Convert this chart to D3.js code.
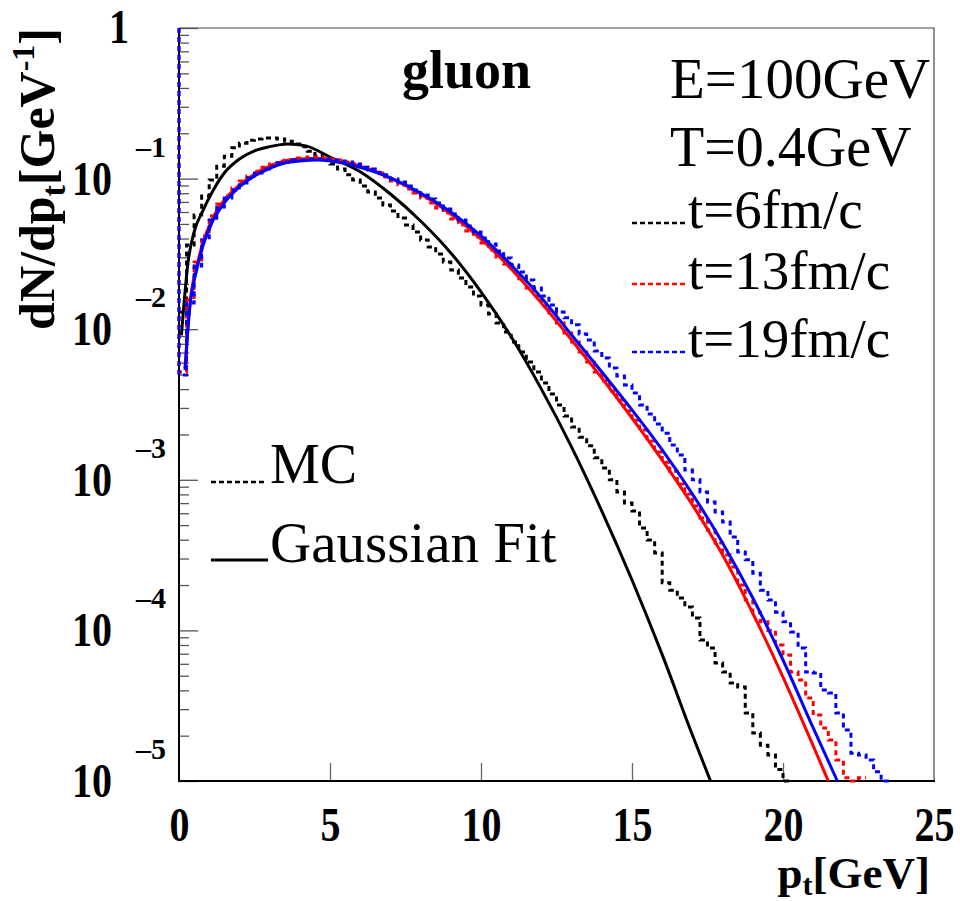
<!DOCTYPE html>
<html><head><meta charset="utf-8">
<script src="https://cdn.jsdelivr.net/npm/d3@7"></script>
<style>
body{margin:0;background:#fff}
svg{display:block}
text{font-family:"Liberation Serif","Times New Roman",serif;fill:#000}
</style>
</head><body>
<svg id="chart" width="960" height="901"></svg>
<script>
// ---------------- data ----------------
const binWidth = 0.25;               // GeV, histogram bins start at pt = 0
const spikeTop = 2;                  // first-edge spike of the t=13 / t=19 histograms (off scale)

// MC histograms dN/dpt per 0.25 GeV bin
const histT6 = [1.30e-2,3.62e-2,5.73e-2,7.66e-2,9.79e-2,1.21e-1,1.41e-1,1.60e-1,1.72e-1,1.80e-1,
  1.83e-1,1.86e-1,1.86e-1,1.83e-1,1.77e-1,1.70e-1,1.63e-1,1.52e-1,1.43e-1,1.33e-1,
  1.25e-1,1.16e-1,1.06e-1,9.79e-2,8.93e-2,8.15e-2,7.43e-2,6.68e-2,6.09e-2,5.47e-2,
  4.92e-2,4.42e-2,3.91e-2,3.51e-2,3.16e-2,2.79e-2,2.47e-2,2.19e-2,1.91e-2,1.66e-2,
  1.45e-2,1.26e-2,1.10e-2,9.58e-3,8.22e-3,7.06e-3,6.06e-3,5.20e-3,4.40e-3,3.71e-3,
  3.14e-3,2.65e-3,2.24e-3,1.92e-3,1.68e-3,1.40e-3,1.20e-3,1.00e-3,8.30e-4,7.01e-4,
  6.21e-4,4.79e-4,3.98e-4,3.27e-4,2.07e-4,1.85e-4,1.64e-4,1.43e-4,1.21e-4,8.63e-5,
  7.64e-5,6.08e-5,5.29e-5,4.47e-5,4.21e-5,2.83e-5,2.08e-5,1.73e-5,1.49e-5,1.19e-5,1.0e-5];

const histT13 = [5.20e-3,1.56e-2,2.79e-2,4.16e-2,5.65e-2,6.78e-2,7.66e-2,8.66e-2,9.64e-2,1.04e-1,
  1.12e-1,1.19e-1,1.25e-1,1.31e-1,1.33e-1,1.37e-1,1.37e-1,1.39e-1,1.39e-1,1.37e-1,
  1.35e-1,1.33e-1,1.29e-1,1.25e-1,1.19e-1,1.14e-1,1.09e-1,1.025e-1,9.64e-2,9.07e-2,
  8.53e-2,8.02e-2,7.43e-2,6.89e-2,6.38e-2,5.91e-2,5.39e-2,4.92e-2,4.49e-2,4.10e-2,
  3.74e-2,3.36e-2,3.02e-2,2.71e-2,2.40e-2,2.16e-2,1.88e-2,1.66e-2,1.43e-2,1.28e-2,
  1.10e-2,9.44e-3,8.22e-3,7.06e-3,6.06e-3,5.20e-3,4.53e-3,3.89e-3,3.39e-3,2.86e-3,
  2.49e-3,2.14e-3,1.81e-3,1.53e-3,1.31e-3,1.14e-3,9.38e-4,8.05e-4,6.70e-4,5.58e-4,
  4.64e-4,3.81e-4,3.17e-4,2.64e-4,2.00e-4,1.59e-4,1.32e-4,1.14e-4,1.00e-4,8.00e-5,
  6.87e-5,5.29e-5,4.68e-5,3.56e-5,2.74e-5,2.25e-5,1.87e-5,1.38e-5,1.05e-5,0,1.05e-5];

const histT19 = [4.96e-3,1.49e-2,2.63e-2,3.91e-2,5.31e-2,6.47e-2,7.43e-2,8.40e-2,9.35e-2,1.01e-1,
  1.09e-1,1.16e-1,1.21e-1,1.27e-1,1.29e-1,1.33e-1,1.33e-1,1.35e-1,1.35e-1,1.35e-1,
  1.33e-1,1.31e-1,1.29e-1,1.25e-1,1.19e-1,1.16e-1,1.10e-1,1.06e-1,9.94e-2,9.49e-2,
  8.93e-2,8.40e-2,7.78e-2,7.32e-2,6.89e-2,6.28e-2,5.82e-2,5.31e-2,4.84e-2,4.42e-2,
  4.03e-2,3.68e-2,3.31e-2,2.97e-2,2.67e-2,2.40e-2,2.12e-2,1.88e-2,1.66e-2,1.45e-2,
  1.30e-2,1.19e-2,1.07e-2,9.29e-3,8.48e-3,7.16e-3,6.44e-3,5.53e-3,4.89e-3,4.26e-3,
  3.77e-3,3.14e-3,2.73e-3,2.35e-3,2.04e-3,1.70e-3,1.46e-3,1.16e-3,1.00e-3,8.30e-4,
  7.12e-4,6.11e-4,5.24e-4,4.17e-4,3.32e-4,2.94e-4,2.40e-4,1.85e-4,1.59e-4,1.32e-4,
  1.14e-4,9.76e-5,7.64e-5,5.29e-5,5.21e-5,4.02e-5,3.84e-5,2.83e-5,2.18e-5,1.53e-5,
  1.49e-5,1.38e-5,1.15e-5,1.0e-5];

// Gaussian fits (pt, dN/dpt)
const fitT6Pt  = [0.08,0.3,0.5,0.8,1.1,1.5,2.0,2.5,3.0,3.6,4.2,5,6,7,8,9,10,11,12,13,14,15,16,17,17.6];
const fitT6Val = [9.1e-3,2.79e-2,4.42e-2,6.18e-2,8.15e-2,1.09e-1,1.35e-1,1.53e-1,1.63e-1,1.70e-1,1.65e-1,
  1.39e-1,1.11e-1,7.90e-2,5.23e-2,3.21e-2,1.77e-2,8.9e-3,4.0e-3,1.65e-3,6.2e-4,2.16e-4,6.9e-5,2.02e-5,9.5e-6];
const fitT13Pt  = [0.2,0.35,0.6,0.8,1.1,1.5,2.0,2.5,3.0,3.5,4.0,4.5,5,6,7,8,9,10,11,12,13,14,15,16,17,18,19,20,21,21.5];
const fitT13Val = [5.53e-3,1.41e-2,2.67e-2,3.79e-2,5.39e-2,7.21e-2,9.07e-2,1.07e-1,1.21e-1,1.31e-1,1.35e-1,1.36e-1,
  1.35e-1,1.21e-1,1.01e-1,7.90e-2,5.82e-2,3.97e-2,2.51e-2,1.49e-2,8.48e-3,4.74e-3,2.57e-3,1.35e-3,6.80e-4,
  3.17e-4,1.30e-4,4.90e-5,1.71e-5,9.8e-6];
const fitT19Pt  = [0.2,0.35,0.6,0.8,1.1,1.5,2.0,2.5,3.0,3.5,4.0,4.6,5,6,7,8,9,10,11,12,13,14,15,16,17,18,19,20,21,21.8];
const fitT19Val = [5.36e-3,1.34e-2,2.55e-2,3.62e-2,5.15e-2,6.89e-2,8.80e-2,1.04e-1,1.17e-1,1.27e-1,1.31e-1,1.33e-1,
  1.31e-1,1.19e-1,1.01e-1,8.02e-2,6.00e-2,4.16e-2,2.67e-2,1.62e-2,9.15e-3,5.20e-3,2.91e-3,1.58e-3,8.05e-4,
  3.81e-4,1.64e-4,6.36e-5,2.25e-5,9.7e-6];

const xTickValues = [0,5,10,15,20,25];
const xTickLabels = ["0","5","10","15","20","25"];
const yDecades = [1e-5,1e-4,1e-3,1e-2,1e-1,1];
const yDecadeExp = ["\u20135","\u20134","\u20133","\u20132","\u20131",""];
const legendTimes = ["t=6fm/c","t=13fm/c","t=19fm/c"];
const seriesColors = ["#000000","#ff0000","#0000ff"];

// ---------------- layout ----------------
const L = 179, R = 934, T = 28, B = 781;
const STRETCH = 1.2;   // tall bold digits of the tick labels
const svg = d3.select("#chart");
const x = d3.scaleLinear().domain([0,25]).range([L,R]);
const y = d3.scaleLog().domain([1e-5,1]).range([B,T]).clamp(true);
const yv = v => y(Math.max(v, 1e-5));

svg.append("defs").append("clipPath").attr("id","clip")
  .append("rect").attr("x",L-3).attr("y",T).attr("width",R-L+3).attr("height",B-T+2);

// frame (top/right thin)
svg.append("path").attr("d",`M${L},${T}H${R}V${B}`).attr("fill","none").attr("stroke","#444").attr("stroke-width",1.2);

// y ticks via axes
const minors = [];
yDecades.slice(0,5).forEach(d => { for (let k=2;k<=9;k++) minors.push(d*k); });
const gyMin = svg.append("g").attr("transform",`translate(${L},0)`)
  .call(d3.axisLeft(y).tickValues(minors).tickSize(-10).tickFormat(""));
const gyMaj = svg.append("g").attr("transform",`translate(${L},0)`)
  .call(d3.axisLeft(y).tickValues(yDecades).tickSize(-19).tickFormat(""));
[gyMin,gyMaj].forEach(g => { g.select(".domain").remove(); g.selectAll("line").attr("stroke","#555").attr("stroke-width",1.3); });

const gx = svg.append("g").attr("transform",`translate(0,${B})`)
  .call(d3.axisBottom(x).tickValues([5,10,15,20]).tickSize(-18).tickFormat(""));
gx.select(".domain").remove();
gx.selectAll("line").attr("stroke","#666").attr("stroke-width",1.3);

// axes lines (left, bottom)
svg.append("line").attr("x1",L).attr("x2",L).attr("y1",T).attr("y2",B+1).attr("stroke","#000").attr("stroke-width",2);
svg.append("line").attr("x1",L-1).attr("x2",R+1).attr("y1",B).attr("y2",B).attr("stroke","#000").attr("stroke-width",2);

// x labels via axis
const gxl = svg.append("g").attr("transform",`translate(0,${B})`)
  .call(d3.axisBottom(x).tickValues(xTickValues).tickSize(0).tickPadding(0).tickFormat((d,i)=>xTickLabels[i]));
gxl.select(".domain").remove();
gxl.selectAll("text").attr("font-size",40).attr("font-weight","bold")
  .attr("font-family",'"Liberation Serif",serif').attr("fill","#000").attr("dy",null).attr("y",0)
  .attr("transform",`translate(0,60) scale(1,${STRETCH})`);

// y labels
function boldLabel(px, py, size, txt, stretch) {
  svg.append("text").attr("transform",`translate(${px},${py}) scale(1,${stretch})`)
    .attr("text-anchor","middle").attr("font-size",size).attr("font-weight","bold").text(txt);
}
yDecades.forEach((d,i) => {
  const py = y(d);
  if (yDecadeExp[i] === "") {
    boldLabel(119, py+15, 40, "1", STRETCH);
  } else {
    boldLabel(92, py+16, 40, "10", STRETCH);
    boldLabel(151, py-22, 30, yDecadeExp[i], 1);
  }
});

// axis titles
const xt = svg.append("text").attr("x",930).attr("y",888).attr("text-anchor","end")
  .attr("font-size",45).attr("font-weight","bold");
xt.append("tspan").text("p");
xt.append("tspan").attr("font-size",30).attr("dy",7).text("t");
xt.append("tspan").attr("dy",-7).text("[GeV]");

const yt = svg.append("text").attr("transform","translate(54,28) rotate(-90)").attr("text-anchor","end")
  .attr("font-size",50).attr("font-weight","bold");
yt.append("tspan").text("dN/dp");
yt.append("tspan").attr("font-size",34).attr("dy",11).text("t");
yt.append("tspan").attr("dy",-11).text("[GeV");
yt.append("tspan").attr("font-size",32).attr("dy",-20).text("-1");
yt.append("tspan").attr("dy",20).text("]");

// ---------------- marks ----------------
const plot = svg.append("g").attr("clip-path","url(#clip)");
const line = d3.line().x(d=>x(d[0])).y(d=>yv(d[1]));
const fitLine = d3.line().x(d=>x(d[0])).y(d=>yv(d[1])).curve(d3.curveMonotoneX);

function histPoints(vals, spike) {
  const pts = [];
  if (spike) pts.push([0, spikeTop]);
  vals.forEach((v,i) => { pts.push([i*binWidth, v]); pts.push([(i+1)*binWidth, v]); });
  return pts;
}
const hists = [[histT6,false],[histT13,true],[histT19,true]];
const fits = [[fitT6Pt,fitT6Val],[fitT13Pt,fitT13Val],[fitT19Pt,fitT19Val]];

hists.forEach((h,i) => {
  plot.append("path").attr("d", line(histPoints(h[0],h[1])))
    .attr("fill","none").attr("stroke",seriesColors[i]).attr("stroke-width",3)
    .attr("stroke-dasharray","5,4");
  const f = fits[i];
  plot.append("path").attr("d", fitLine(f[0].map((p,j)=>[p,f[1][j]])))
    .attr("fill","none").attr("stroke",seriesColors[i]).attr("stroke-width",3);
});

// ---------------- annotations / legend ----------------
svg.append("text").attr("x",402).attr("y",88).attr("font-size",54).attr("font-weight","bold").text("gluon");
svg.append("text").attr("x",670).attr("y",98).attr("font-size",57).text("E=100GeV");
svg.append("text").attr("x",670).attr("y",166).attr("font-size",56).text("T=0.4GeV");
const legY = [223,284,352];
legendTimes.forEach((t,i) => {
  svg.append("line").attr("x1",632).attr("x2",688).attr("y1",legY[i]).attr("y2",legY[i])
    .attr("stroke",seriesColors[i]).attr("stroke-width",2.5).attr("stroke-dasharray","5,3");
  svg.append("text").attr("x",688).attr("y",legY[i]+5).attr("font-size",55).text(t);
});
svg.append("line").attr("x1",211).attr("x2",267).attr("y1",482).attr("y2",482)
  .attr("stroke","#000").attr("stroke-width",2.5).attr("stroke-dasharray","5,3");
svg.append("text").attr("x",270).attr("y",483).attr("font-size",56).text("MC");
svg.append("line").attr("x1",211).attr("x2",268).attr("y1",560).attr("y2",560)
  .attr("stroke","#000").attr("stroke-width",3);
svg.append("text").attr("x",270).attr("y",562).attr("font-size",57).text("Gaussian Fit");
</script>
</body></html>
